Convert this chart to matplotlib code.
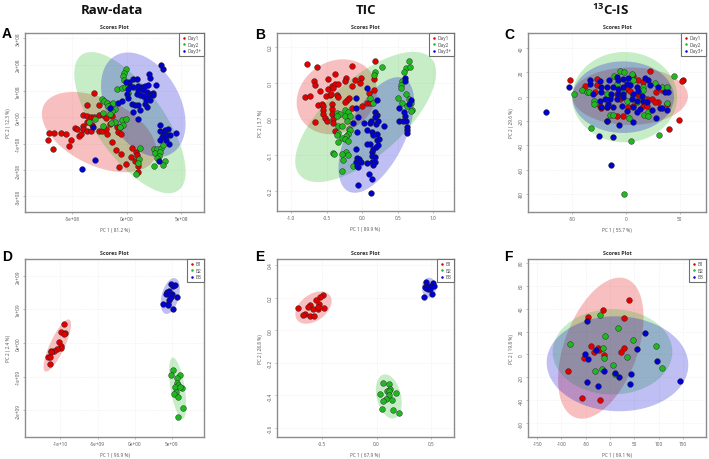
import numpy as np
import matplotlib
matplotlib.use("Agg")
import matplotlib.pyplot as plt
from matplotlib.lines import Line2D

plt.rcParams["font.family"] = ["Open Sans", "DejaVu Sans"]
plt.rcParams["mathtext.default"] = "regular"

RED = "#e00000"
GREEN = "#20b820"
BLUE = "#0000d0"
GRAY = "#8c8c8c"

day_labels = ["Day1", "Day2", "Day3+"]
batch_labels = ["B1", "B2", "B3"]

# Panel A, units of 1e8
a_red_x = [-7.23,-7.07,-6.65,-6.0,-5.58,-5.12,-5.24,-6.71,-4.73,-4.57,-4.33,-4.21,-4.02,-3.96,-3.6,-3.29,-3.96,-3.6,-2.96,-2.5,-3.6,-3.29,-2.99,-2.5,-2.13,-1.89,-3.66,-3.2,-2.5,-2.29,-1.89,-1.77,-1.52,-1.37,-0.91,-0.61,-0.76,-0.55,-1.31,-0.98,-0.55,0.52,0.37,0.85,0.98,-0.06,-0.67,1.07,1.01,0.76]
a_red_y = [-0.84,-0.59,-0.61,-0.59,-0.65,-0.86,-1.10,-1.19,-0.41,-0.46,-0.71,-0.62,-0.34,-0.46,-0.52,-0.52,0.10,0.46,0.91,0.46,0.05,0.01,0.01,0.10,0.08,-0.03,-0.18,-0.30,-0.51,-0.53,-0.46,-0.62,-0.25,0.04,-0.37,-0.38,-0.56,-0.62,-0.94,-1.22,-1.38,-1.15,-1.51,-1.32,-1.44,-1.76,-1.90,-1.85,-2.08,-1.67]
a_green_x = [-0.06,-0.24,-0.37,-0.24,-0.91,-0.46,-0.15,0.15,0.15,-2.29,-2.07,-1.77,-1.52,-1.22,-1.68,-1.07,-1.37,-2.2,-1.52,-2.9,-3.41,-2.2,-1.07,-1.46,-0.46,-0.06,-0.30,-0.61,1.22,2.5,2.8,3.11,3.35,2.59,3.05,2.99,2.74,3.51,3.35,2.53,1.16,1.07,0.85]
a_green_y = [1.82,1.70,1.57,1.41,1.09,1.11,1.15,1.24,0.94,0.68,0.63,0.56,0.48,0.56,0.43,0.33,0.25,0.18,0.14,-0.05,-0.18,-0.33,-0.18,-0.22,-0.11,-0.05,-0.30,-0.37,-1.16,-1.19,-1.19,-1.16,-1.06,-1.34,-1.32,-1.47,-1.54,-1.66,-1.82,-1.85,-1.57,-1.72,-2.13]
a_blue_x = [3.14,3.35,2.04,2.13,0.55,0.91,0.24,-0.06,2.68,0.30,0.61,1.07,1.37,1.68,1.98,1.07,1.52,1.83,2.13,2.44,0.15,0,0.91,1.22,1.52,1.98,2.38,1.77,2.13,1.68,1.83,0.46,0.76,1.07,0.15,-0.76,-0.46,0.61,1.22,1.07,-1.52,3.05,3.81,3.51,3.05,3.35,4.48,3.66,3.2,3.96,3.05,3.57,3.90,3.51,-2.9,-4.12,-3.11,2.99]
a_blue_y = [2.0,1.82,1.65,1.49,1.47,1.47,1.34,1.34,1.24,1.19,1.15,1.19,1.15,1.19,1.24,1.03,1.03,0.96,0.90,0.92,1.09,0.90,0.90,0.84,0.81,0.77,0.86,0.65,0.65,0.52,0.39,0.52,0.48,0.48,0.73,0.56,0.61,0.20,0.27,-0.05,0.35,-0.30,-0.43,-0.49,-0.53,-0.58,-0.58,-0.68,-0.75,-0.68,-0.87,-0.87,-1.0,-0.75,-1.63,-1.95,-0.37,-1.67]

# Panel B
b_red_x = [-0.78,-0.64,-0.81,-0.74,-0.68,-0.67,-0.49,-0.39,-0.14,0.18,-0.23,-0.24,-0.11,-0.02,-0.03,0.17,-0.60,-0.49,-0.43,-0.39,-0.35,-0.42,-0.51,-0.46,-0.44,-0.36,-0.35,-0.19,-0.22,-0.24,-0.15,0.10,0.17,-0.62,-0.57,-0.55,-0.43,-0.55,-0.43,-0.43,-0.55,-0.52,-0.50,-0.42,-0.42,-0.67,-0.38,-0.15,-0.01,0.07,0.11]
b_red_y = [.153,.145,.060,.062,.104,.094,.111,.124,.146,.159,.113,.104,.108,.114,.099,.109,.076,.083,.091,.097,.096,.085,.063,.065,.069,.067,.060,.058,.051,.046,.091,.072,.081,.039,.042,.035,.042,.025,.028,.014,.014,.002,-.005,0,-.011,-.010,-.034,.030,.035,.044,.044]
b_green_x = [.655,.622,.585,.674,.276,.178,.168,.562,.548,.538,.613,.505,.562,.651,.679,.636,.702,.683,.154,.108,-.36,-.314,-.36,-.239,-.206,-.239,-.173,-.22,-.337,-.29,-.187,-.173,-.337,-.36,-.197,-.229,-.29,-.243,-.197,-.342,-.407,-.393,-.229,-.206,-.29,-.267,-.285,-.126]
b_green_y = [.159,.141,.131,.144,.145,.130,.122,.106,.094,.085,.068,.058,.043,.054,.044,.035,.023,.021,.044,.057,.016,.012,.007,.025,.019,.007,.007,-.005,-.019,-.020,-.028,-.032,-.040,-.046,-.042,-.048,-.054,-.056,-.063,-.065,-.094,-.097,-.092,-.100,-.097,-.114,-.144,-.131]
b_blue_x = [.122,-.066,.136,.098,.061,-.08,-.094,-.08,-.056,-.023,-.047,.131,.178,.131,.178,.154,.14,.154,.192,.225,.108,.061,.201,.239,.131,.201,.154,.061,.023,.108,.192,.225,.304,.178,.201,.117,-.08,-.126,-.056,-.084,-.094,.07,.201,.599,.608,.519,.585,.599,.519,.576,.622,.632,.636,.636,.683,.66,.178,-.094]
b_blue_y = [-.206,-.185,-.168,-.153,-.123,-.109,-.120,-.132,-.134,-.120,-.111,-.102,-.106,-.120,-.120,-.127,-.093,-.083,-.079,-.074,-.069,-.069,-.060,-.056,-.037,-.042,-.046,-.032,-.012,-.011,-.014,-.005,-.020,.019,.011,-.005,-.037,-.011,.005,.058,.031,.085,.051,.113,.106,.030,.019,.009,-.005,-.007,-.005,-.023,-.032,-.040,.053,.042,.005,-.083]

# Panel C
c_red_x = [-51.6,-38.2,-26.4,-26.4,-28.9,22.4,53.4,51.9,49.4,40.1,-8.7,-2.5,-17.4,-24.2,-22.7,-18,2.2,6.8,11.5,16.1,6.8,.6,3.7,9.9,13,19.3,23.9,28,30.1,37.9,33.2,-5.6,-8.7,-2.5,-14.9,27,16.1,19.3]
c_red_y = [13.2,8.5,14.6,9.6,3.6,20.6,14,12.6,-19.2,-26.6,-15.9,-15.7,-19.8,-7.4,-9.6,-8.8,-8.8,-7.4,13.7,11.8,16.8,6.3,4.9,2.2,.8,-1.9,-1.9,3.6,-4.7,-6,5.8,-1.9,2.2,4.9,-.5,-4.7,-7.4,-7.4]
c_green_x = [-47.8,-40.4,-36.6,-34.5,-29.8,-29.8,-5.6,-1.9,5.3,-11.2,44.7,33.9,38.5,27,-32.3,30.4,5,-2.2,3.1,-14.9,-11.8,17.1,20.8,20.8,38.5,15.5,16.1,6.8,.6,-18,.6,16.1,-8.7,9.9,-2.5,6.8]
c_green_y = [2.2,5.8,4.1,4.1,-3.3,-6,21.4,20.1,18.7,16.8,16.8,8.2,8.2,11.3,-26.1,-31.9,-36.3,-79.9,-17.3,-15.1,-15.1,-15.1,-12.9,-16.2,-5.2,7.7,5.8,13.7,11.8,2.2,-3.3,-1.9,10.4,-4.7,3.6,.8]
c_blue_x = [-52.8,-73.9,-25.2,-11.8,-13.7,-6.2,6.2,-17.4,28,-33.5,-33.5,-23.6,-15.5,-8.7,-7.1,-2.5,2.2,17.7,20.8,.6,3.7,9.9,-22.7,-18,-11.8,-7.1,-2.5,11.5,22.4,30.1,36.3,38.8,-30.4,-22.7,-13.4,-7.1,-2.5,6.8,14.6,-24.2,-19.6,-14.9,-8.7,-2.5,5.3,9.9,16.1,-22.7,-16.5,-11.8,-4,.6,6.8,13,9.9,23.9,31.7,37.9,33.2,-17.4,19.3]
c_blue_y = [8,-12.4,-32.4,-33.2,-56.3,-23.4,-20.6,-19.8,-17.6,13.2,10.4,12.6,13.2,15.9,13.2,14.6,15.1,15.1,13.7,10.4,9.6,7.7,7.7,7.7,7.7,6.3,7.7,4.9,9.1,7.7,4.1,4.1,2.2,3.6,2.2,2.2,2.2,2.2,.8,-3.3,-1.9,-1.9,-1.9,-.5,-1.9,-3.3,-3.3,-8.8,-6,-8.8,-7.4,-11.5,-8.8,-10.2,-12.4,-10.7,-9.6,-10.7,-9.6,-8.8,-4.7]

# Panel D, units of 1e9
d_red_x = [-9.56,-9.92,-9.34,-9.52,-10.19,-9.88,-9.92,-10.51,-10.82,-11.23,-11.32,-11.63,-11.36,-11.36]
d_red_y = [.56,.33,.31,.27,.03,-.09,-.14,-.17,-.22,-.23,-.27,-.40,-.41,-.63]
d_green_x = [5.21,4.94,6.11,5.66,5.66,5.88,5.43,6.33,6.11,5.57,5.30,5.84,6.47,5.84]
d_green_y = [-.80,-.96,-.96,-1.05,-1.18,-1.23,-1.29,-1.34,-1.29,-1.46,-1.52,-1.61,-1.93,-2.20]
d_blue_x = [4.89,5.21,5.43,4.31,4.62,4.18,4.54,4.98,4.85,5.66,4.67,4.54,3.86,4.45,5.12]
d_blue_y = [1.76,1.69,1.72,1.51,1.54,1.47,1.47,1.47,1.37,1.37,1.27,1.17,1.17,1.12,1.01]

# Panel E
e_red_x = [-.489,-.517,-.554,-.529,-.615,-.633,-.722,-.587,-.544,-.541,-.483,-.657,-.679,-.609,-.578]
e_red_y = [.218,.206,.188,.163,.155,.145,.139,.133,.131,.141,.135,.098,.092,.090,.088]
e_green_x = [.061,.116,.122,.095,.119,.116,.183,.034,.086,.061,.141,.046,.153,.205]
e_green_y = [-.322,-.329,-.363,-.373,-.373,-.396,-.388,-.392,-.420,-.435,-.427,-.484,-.490,-.510]
e_blue_x = [.456,.520,.446,.474,.505,.526,.474,.495,.459,.514,.434]
e_blue_y = [.298,.290,.263,.273,.269,.269,.253,.253,.257,.222,.202]

# Panel F
f_red_x = [39.1,-14.4,-44.6,28.1,-39.8,-24,-22.6,-33.6,-12.4,27.5,21.3,-54.2,-85.8,-57.7,-20.6]
f_red_y = [47.8,39.1,32.8,31.9,7.2,5.5,4.1,2.3,-.3,5.8,2.6,-2.9,-14.2,-38.3,-40]
f_green_x = [-21.3,16.5,-11,46.7,-82.4,-13.7,94,-12.4,34.3,6.2,-17.2,-30.9,9.6,106.4]
f_green_y = [34.8,23.5,15.7,13,8.9,5.8,7.5,-3.2,-2.3,-9,-12.8,-14.5,-17.4,-12.2]
f_blue_x = [-46.7,71.4,54.2,-29.5,-52.2,-44.6,96.1,144.1,-12.4,9.6,19.2,43.2,39.8,-46.7,-24.7]
f_blue_y = [29.3,19.1,5.2,4.1,0,-4.1,-6.1,-23.5,-14.8,-16,-19.4,-16.8,-25.5,-24.3,-27.8]

# confidence ellipses: centre, then two conjugate semi-axes (data units)
a_ellipses = [((-2.53,-0.56),(5.06,-1.01),(1.31,1.14)), ((0.30,-0.20),(4.42,-2.57),(2.53,0.75)), ((1.52,0.48),(2.59,-1.85),(2.87,0.71))]
b_ellipses = [((-.36,.061),(.491,.065),(.281,-.081)), ((.047,.005),(.927,.162),(.356,-.080)), ((.197,-.045),(.388,.157),(.365,-.033))]
c_ellipses = [((4,.3),(53.7,0),(0,23.6)), ((-1.2,-.5),(48.8,0),(0,37.1)), ((-2.5,-.5),(47.2,0),(0,29.4))]
d_ellipses = [((-10.42,-.07),(1.62,.77),(.90,-.09)), ((5.79,-1.34),(-.67,.91),(.94,.03)), ((4.80,1.40),(.63,.53),(1.12,-.06))]
e_ellipses = [((-.581,.139),(.153,.073),(.067,-.067)), ((.113,-.406),(.067,-.129),(.098,.041)), ((.483,.261),(.009,.061),(.064,-.006))]
f_ellipses = [((-19.2,5.5),(46,61.2),(74.8,-5.8)), ((4.8,2.3),(122.9,0),(0,37.1)), ((15.1,-8.1),(140.7,-11.6),(37.1,39.7))]

W, H = 709, 460
fig = plt.figure(figsize=(W / 100, H / 100), dpi=100)


def draw_panel(box, letter, letter_pos, series, ellipses, xlim, ylim, xticks, xticklabels,
               yticks, yticklabels, xlabel, ylabel, labels):
    left, top, right, bottom = box
    ax = fig.add_axes([left / W, 1 - bottom / H, (right - left) / W, (bottom - top) / H])
    colors = [RED, GREEN, BLUE]
    t = np.linspace(0, 2 * np.pi, 200)
    for (c, u, v), col in zip(ellipses, colors):
        ax.fill(c[0] + u[0] * np.cos(t) + v[0] * np.sin(t),
                c[1] + u[1] * np.cos(t) + v[1] * np.sin(t),
                color=col, alpha=0.25, lw=0, zorder=2)
    for (x, y), col in zip(series, colors):
        ax.scatter(x, y, s=17, c=col, edgecolors="#202020", linewidths=0.3, zorder=3)
    ax.set_xlim(xlim)
    ax.set_ylim(ylim)
    ax.set_xticks(xticks, xticklabels)
    ax.set_yticks(yticks, yticklabels)
    ax.tick_params(labelsize=3.4, length=1.2, width=0.4, color=GRAY, labelcolor="#555555", pad=2)
    plt.setp(ax.get_yticklabels(), rotation=90, va="center")
    ax.grid(True, color="#e4e4e4", lw=0.4, ls=":")
    ax.set_axisbelow(True)
    for s in ax.spines.values():
        s.set_color(GRAY)
        s.set_linewidth(1.0)
    ax.set_title("Scores Plot", fontsize=3.9, fontweight="bold", color="#333333", pad=3.5)
    ax.set_xlabel(xlabel, fontsize=3.4, color="#555555", labelpad=4)
    ax.set_ylabel(ylabel, fontsize=3.4, color="#555555", labelpad=3)
    handles = [Line2D([], [], ls="", marker="o", ms=1.8, color=col, mew=0) for col in colors]
    leg = ax.legend(handles, labels, loc="upper right", fontsize=3.4, fancybox=False, framealpha=1,
                    edgecolor="#707070", borderpad=0.5, handletextpad=0.3, labelspacing=0.3,
                    handlelength=1.0, borderaxespad=0)
    leg.get_frame().set_linewidth(0.8)
    for txt in leg.get_texts():
        txt.set_color("#444444")
    fig.text(letter_pos[0] / W, 1 - letter_pos[1] / H, letter, fontsize=10, fontweight="bold",
             family="Liberation Sans", color="black", ha="left", va="center")


draw_panel((25, 34, 204, 213), "A", (2, 34.5), [(a_red_x, a_red_y), (a_green_x, a_green_y), (a_blue_x, a_blue_y)],
           a_ellipses, (-9.30, 7.07), (-3.59, 3.20), [-5, 0, 5], ["-5e+08", "0e+00", "5e+08"],
           [-3, -2, -1, 0, 1, 2, 3], ["-3e+08", "-2e+08", "-1e+08", "0e+00", "1e+08", "2e+08", "3e+08"],
           "PC 1 ( 81.2 %)", "PC 2 ( 12.3 %)", day_labels)
draw_panel((277, 34, 454, 212), "B", (255, 35), [(b_red_x, b_red_y), (b_green_x, b_green_y), (b_blue_x, b_blue_y)],
           b_ellipses, (-1.203, 1.292), (-.256, .238), [-1, -.5, 0, .5, 1], ["-1.0", "-0.5", "0.0", "0.5", "1.0"],
           [-.2, -.1, 0, .1, .2], ["-0.2", "-0.1", "0.0", "0.1", "0.2"],
           "PC 1 ( 89.9 %)", "PC 2 ( 3.7 %)", day_labels)
draw_panel((528, 34, 706, 213), "C", (504, 35), [(c_red_x, c_red_y), (c_green_x, c_green_y), (c_blue_x, c_blue_y)],
           c_ellipses, (-91, 74.5), (-94.8, 52.2), [-50, 0, 50], ["-50", "0", "50"],
           [-80, -60, -40, -20, 0, 20, 40], ["-80", "-60", "-40", "-20", "0", "20", "40"],
           "PC 1 ( 55.7 %)", "PC 2 ( 29.6 %)", day_labels)
draw_panel((25, 260, 204, 438), "D", (2, 257), [(d_red_x, d_red_y), (d_green_x, d_green_y), (d_blue_x, d_blue_y)],
           d_ellipses, (-14.77, 9.34), (-2.79, 2.50), [-10, -5, 0, 5], ["-1e+10", "-5e+09", "0e+00", "5e+09"],
           [-2, -1, 0, 1, 2], ["-2e+09", "-1e+09", "0e+00", "1e+09", "2e+09"],
           "PC 1 ( 96.9 %)", "PC 2 ( 2.4 %)", batch_labels)
draw_panel((277, 260, 454, 438), "E", (255, 257), [(e_red_x, e_red_y), (e_green_x, e_green_y), (e_blue_x, e_blue_y)],
           e_ellipses, (-.917, .713), (-.655, .437), [-.5, 0, .5], ["-0.5", "0.0", "0.5"],
           [-.6, -.4, -.2, 0, .2, .4], ["-0.6", "-0.4", "-0.2", "0.0", "0.2", "0.4"],
           "PC 1 ( 67.9 %)", "PC 2 ( 28.8 %)", batch_labels)
draw_panel((528, 260, 706, 438), "F", (504, 257), [(f_red_x, f_red_y), (f_green_x, f_green_y), (f_blue_x, f_blue_y)],
           f_ellipses, (-168.8, 197), (-71.9, 83.2), [-150, -100, -50, 0, 50, 100, 150],
           ["-150", "-100", "-50", "0", "50", "100", "150"],
           [-60, -40, -20, 0, 20, 40, 60, 80], ["-60", "-40", "-20", "0", "20", "40", "60", "80"],
           "PC 1 ( 69.1 %)", "PC 2 ( 19.8 %)", batch_labels)

for label, cx in [("Raw-data", 112), ("TIC", 366), ("$^{13}$C-IS", 611)]:
    fig.text(cx / W, 1 - 10 / H, label, fontsize=9.5, fontweight="bold", color="#111111", ha="center", va="center")

fig.savefig("out.png", dpi=100)
